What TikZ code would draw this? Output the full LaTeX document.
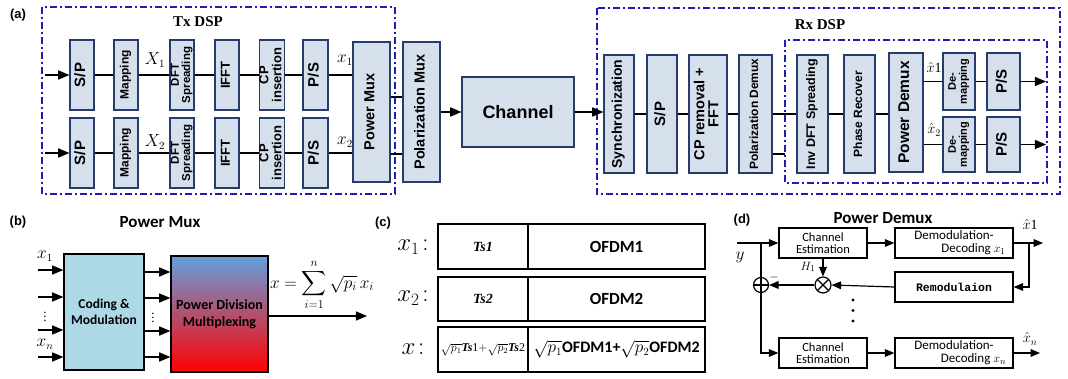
\documentclass[tikz,border=0pt]{standalone}
\usepackage{fontspec}
\setmainfont{Liberation Serif}
\setsansfont{Liberation Sans}
\setmonofont{Liberation Mono}
\newfontfamily\carlito{Carlito}
\usepackage{amsmath}
\usepackage{tikz}
\usetikzlibrary{arrows}
\definecolor{boxfill}{RGB}{214,223,236}
\definecolor{boxline}{RGB}{38,60,108}
\definecolor{dspblue}{RGB}{30,30,180}
\definecolor{codefill}{RGB}{173,216,230}
\definecolor{pdmtop}{RGB}{100,160,222}
\tikzstyle{blk} = [draw=boxline, fill=boxfill, line width=1.3pt, inner sep=0pt, font=\sffamily\bfseries\fontsize{13}{11.5}\selectfont]
\tikzstyle{wire} = [line width=1.3pt]
\tikzstyle{arr} = [-triangle 45, line width=1.6pt]
\tikzstyle{thinarr} = [-triangle 45, line width=1.2pt]
\tikzstyle{dsp} = [draw=dspblue, line width=1.4pt, dash pattern=on 7pt off 3pt on 2pt off 3pt]
\tikzstyle{pbox} = [draw, line width=1.4pt, inner sep=0pt, align=center, font=\carlito\fontsize{12.5}{12}\selectfont]
\tikzstyle{cell} = [draw, line width=1.4pt, inner sep=0pt]
\tikzstyle{sumnode} = [circle, draw, line width=1.2pt, minimum size=15pt, inner sep=0pt, path picture={\draw[line width=1.2pt] (path picture bounding box.north) -- (path picture bounding box.south) (path picture bounding box.west) -- (path picture bounding box.east);}]
\tikzstyle{multnode} = [circle, draw, line width=1.2pt, minimum size=16pt, inner sep=0pt, path picture={\draw[line width=1.2pt] (path picture bounding box.north west) -- (path picture bounding box.south east) (path picture bounding box.south west) -- (path picture bounding box.north east);}]
\newcommand{\vlab}[1]{\rotatebox{90}{\begin{tabular}{@{}c@{}}#1\end{tabular}}}

\begin{document}
\begin{tikzpicture}[yscale=-1]
			\useasboundingbox (0pt,0pt) rectangle (1068pt,379pt);
			\draw[dsp] (42pt,7pt) rectangle (395pt,194pt);
			\draw[dsp] (597pt,8pt) rectangle (1060pt,194pt);
			\draw[dsp] (785pt,40pt) rectangle (1047pt,183pt);
			\node[font=\sffamily\bfseries\fontsize{13}{13}\selectfont] (taga) at (18pt,15pt) {(a)};
			\node[font=\bfseries\fontsize{15}{15}\selectfont] (txlbl) at (198pt,22pt) {Tx DSP};
			\node[font=\bfseries\fontsize{15}{15}\selectfont] (rxlbl) at (820pt,25pt) {Rx DSP};
			\node[blk, minimum width=24pt, minimum height=70pt, font=\sffamily\bfseries\fontsize{15}{15}\selectfont] (sp1) at (82pt,75pt) {\vlab{S/P}};
			\node[blk, minimum width=24pt, minimum height=70pt, font=\sffamily\bfseries\fontsize{12}{11}\selectfont] (map1) at (126pt,75pt) {\vlab{Mapping}};
			\node[blk, minimum width=24pt, minimum height=70pt, font=\sffamily\bfseries\fontsize{11.5}{10}\selectfont] (dft1) at (182pt,75pt) {\vlab{DFT\\Spreading}};
			\node[blk, minimum width=24pt, minimum height=70pt] (ifft1) at (227pt,75pt) {\vlab{IFFT}};
			\node[blk, minimum width=24pt, minimum height=70pt] (cp1) at (272pt,75pt) {\vlab{CP\\insertion}};
			\node[blk, minimum width=25pt, minimum height=70pt, font=\sffamily\bfseries\fontsize{15}{15}\selectfont] (ps1) at (315.5pt,75pt) {\vlab{P/S}};
			\node[blk, minimum width=24pt, minimum height=70pt, font=\sffamily\bfseries\fontsize{15}{15}\selectfont] (sp2) at (82pt,153pt) {\vlab{S/P}};
			\node[blk, minimum width=24pt, minimum height=70pt, font=\sffamily\bfseries\fontsize{12}{11}\selectfont] (map2) at (126pt,153pt) {\vlab{Mapping}};
			\node[blk, minimum width=24pt, minimum height=70pt, font=\sffamily\bfseries\fontsize{11.5}{10}\selectfont] (dft2) at (182pt,153pt) {\vlab{DFT\\Spreading}};
			\node[blk, minimum width=24pt, minimum height=70pt] (ifft2) at (227pt,153pt) {\vlab{IFFT}};
			\node[blk, minimum width=24pt, minimum height=70pt] (cp2) at (272pt,153pt) {\vlab{CP\\insertion}};
			\node[blk, minimum width=25pt, minimum height=70pt, font=\sffamily\bfseries\fontsize{15}{15}\selectfont] (ps2) at (315.5pt,153pt) {\vlab{P/S}};
			\node[blk, minimum width=37pt, minimum height=140pt, font=\sffamily\bfseries\fontsize{14.5}{14}\selectfont] (pmux) at (371.5pt,112pt) {\vlab{Power Mux}};
			\node[blk, minimum width=37pt, minimum height=140pt, font=\sffamily\bfseries\fontsize{14.5}{14}\selectfont] (polmux) at (421.5pt,112pt) {\vlab{Polarization Mux}};
			\node[blk, minimum width=112pt, minimum height=70pt, font=\sffamily\bfseries\fontsize{18}{18}\selectfont] (chan) at (518pt,112pt) {Channel};
			\node[blk, minimum width=30pt, minimum height=118pt, font=\sffamily\bfseries\fontsize{14}{14}\selectfont] (sync) at (619pt,114pt) {\vlab{Synchronization}};
			\node[blk, minimum width=30pt, minimum height=118pt, font=\sffamily\bfseries\fontsize{15}{15}\selectfont] (spr) at (662pt,114pt) {\vlab{S/P}};
			\node[blk, minimum width=38pt, minimum height=118pt, font=\sffamily\bfseries\fontsize{14.5}{13}\selectfont] (cprm) at (708pt,114pt) {\vlab{CP removal +\\FFT}};
			\node[blk, minimum width=33pt, minimum height=118pt, font=\sffamily\bfseries\fontsize{12}{11}\selectfont] (poldemux) at (755.5pt,114pt) {\vlab{Polarization Demux}};
			\node[blk, minimum width=31pt, minimum height=118pt, font=\sffamily\bfseries\fontsize{12.5}{12}\selectfont] (invdft) at (812.5pt,114pt) {\vlab{Inv DFT Spreading}};
			\node[blk, minimum width=31pt, minimum height=118pt, font=\sffamily\bfseries\fontsize{12}{11}\selectfont] (phase) at (859.5pt,114pt) {\vlab{Phase Recover}};
			\node[blk, minimum width=34pt, minimum height=119pt, font=\sffamily\bfseries\fontsize{15.5}{15}\selectfont] (pdemux) at (906pt,112.5pt) {\vlab{Power Demux}};
			\node[blk, minimum width=32pt, minimum height=57pt, font=\sffamily\bfseries\fontsize{11}{10}\selectfont] (demap1) at (959pt,81.5pt) {\vlab{De-\\mapping}};
			\node[blk, minimum width=32pt, minimum height=55pt, font=\sffamily\bfseries\fontsize{11}{10}\selectfont] (demap2) at (959pt,144.5pt) {\vlab{De-\\mapping}};
			\node[blk, minimum width=33pt, minimum height=57pt, font=\sffamily\bfseries\fontsize{15}{15}\selectfont] (psr1) at (1003.5pt,81.5pt) {\vlab{P/S}};
			\node[blk, minimum width=33pt, minimum height=55pt, font=\sffamily\bfseries\fontsize{15}{15}\selectfont] (psr2) at (1003.5pt,144.5pt) {\vlab{P/S}};
			\coordinate (in1) at (45pt,75pt);
			\coordinate (in2) at (45pt,153pt);
			\draw[arr] (in1) -- (sp1.west);
			\draw[arr] (in2) -- (sp2.west);
			\draw[wire] (sp1) -- (map1) (map1) -- (dft1) (dft1) -- (ifft1) (ifft1) -- (cp1) (cp1) -- (ps1);
			\draw[wire] (sp2) -- (map2) (map2) -- (dft2) (dft2) -- (ifft2) (ifft2) -- (cp2) (cp2) -- (ps2);
			\draw[wire] (ps1.east) -- (ps1.east -| pmux.west);
			\draw[wire] (ps2.east) -- (ps2.east -| pmux.west);
			\node[font=\fontsize{16}{16}\selectfont] (lX1) at (155pt,60pt) {$X_1$};
			\node[font=\fontsize{16}{16}\selectfont] (lX2) at (155pt,142pt) {$X_2$};
			\node[font=\fontsize{16}{16}\selectfont] (lx1) at (345pt,60pt) {$x_1$};
			\node[font=\fontsize{16}{16}\selectfont] (lx2) at (345pt,142pt) {$x_2$};
			\coordinate (pm1) at (397pt,97pt);
			\coordinate (pm2) at (397pt,154pt);
			\draw[wire] (pmux.east |- pm1) -- (polmux.west |- pm1);
			\draw[wire] (pmux.east |- pm2) -- (polmux.west |- pm2);
			\draw[arr] (polmux.east |- chan.west) -- (chan.west);
			\draw[arr] (chan.east) -- (chan.east -| sync.west);
			\draw[wire] (sync) -- (spr) (spr) -- (cprm) (cprm) -- (poldemux) (poldemux) -- (invdft) (invdft) -- (phase);
			\draw[wire] (phase.east) -- (phase.east -| pdemux.west);
			\coordinate (innerL) at (785pt,154pt);
			\draw[wire] (poldemux.east |- innerL) -- (innerL);
			\draw[wire] (pdemux.east |- demap1.west) -- (demap1.west);
			\draw[wire] (pdemux.east |- demap2.west) -- (demap2.west);
			\draw[wire] (demap1) -- (psr1) (demap2) -- (psr2);
			\coordinate (out1) at (1046pt,81.5pt);
			\coordinate (out2) at (1046pt,144.5pt);
			\draw[arr] (psr1.east) -- (out1);
			\draw[arr] (psr2.east) -- (out2);
			\node[font=\fontsize{14}{14}\selectfont, inner sep=1pt] (lxh1) at (934pt,68pt) {$\hat{x}\mathrm{1}$};
			\node[font=\fontsize{14}{14}\selectfont, inner sep=1pt] (lxh2) at (934pt,130pt) {$\hat{x}_2$};
			\node[font=\sffamily\bfseries\fontsize{13}{13}\selectfont] (tagb) at (18pt,222pt) {(b)};
			\node[font=\carlito\bfseries\fontsize{17}{17}\selectfont] (bhead) at (160pt,222pt) {Power Mux};
			\node[draw, line width=1.4pt, fill=codefill, minimum width=80pt, minimum height=116pt, align=center, font=\carlito\bfseries\fontsize{13.5}{16}\selectfont] (coding) at (104pt,312pt) {Coding \&\\Modulation};
			\node[draw, line width=1.4pt, top color=pdmtop, bottom color=red, minimum width=97pt, minimum height=116pt, align=center, font=\carlito\bfseries\fontsize{14}{17}\selectfont] (pdm) at (219.5pt,314pt) {Power Division\\Multiplexing};
			\coordinate (bi1) at (38pt,270pt);
			\coordinate (bi2) at (38pt,297pt);
			\coordinate (bi3) at (38pt,330pt);
			\coordinate (bi4) at (38pt,357pt);
			\draw[arr] (bi1) -- (bi1 -| coding.west);
			\draw[arr] (bi2) -- (bi2 -| coding.west);
			\draw[arr] (bi3) -- (bi3 -| coding.west);
			\draw[arr] (bi4) -- (bi4 -| coding.west);
			\coordinate (bm1) at (150pt,272pt);
			\coordinate (bm2) at (150pt,298pt);
			\coordinate (bm3) at (150pt,331pt);
			\coordinate (bm4) at (150pt,357pt);
			\draw[arr] (coding.east |- bm1) -- (pdm.west |- bm1);
			\draw[arr] (coding.east |- bm2) -- (pdm.west |- bm2);
			\draw[arr] (coding.east |- bm3) -- (pdm.west |- bm3);
			\draw[arr] (coding.east |- bm4) -- (pdm.west |- bm4);
			\coordinate (bout) at (367pt,316pt);
			\draw[arr] (pdm.east |- bout) -- (bout);
			\node[font=\fontsize{16}{16}\selectfont] (bx1) at (45pt,256pt) {$x_1$};
			\node[font=\fontsize{16}{16}\selectfont] (bxn) at (45pt,344pt) {$x_n$};
			\node[font=\fontsize{13}{13}\selectfont] (bdots1) at (45pt,314pt) {$\vdots$};
			\node[font=\fontsize{13}{13}\selectfont] (bdots2) at (153pt,315pt) {$\vdots$};
			\node[font=\fontsize{17}{17}\selectfont, inner sep=0pt] (formula) at (322pt,285pt) {$x=\displaystyle\sum_{i=1}^{n}\sqrt{p_i}\,x_i$};
			\node[font=\sffamily\bfseries\fontsize{13}{13}\selectfont] (tagc) at (383pt,223pt) {(c)};
			\node[cell, minimum width=90pt, minimum height=45pt, font=\bfseries\itshape\fontsize{14}{14}\selectfont] (ts1) at (483pt,246.5pt) {Ts1};
			\node[cell, minimum width=177pt, minimum height=45pt, font=\carlito\bfseries\fontsize{17}{17}\selectfont] (of1) at (616.5pt,246.5pt) {OFDM1};
			\node[cell, minimum width=90pt, minimum height=44pt, font=\bfseries\itshape\fontsize{14}{14}\selectfont] (ts2) at (483pt,299pt) {Ts2};
			\node[cell, minimum width=177pt, minimum height=44pt, font=\carlito\bfseries\fontsize{17}{17}\selectfont] (of2) at (616.5pt,299pt) {OFDM2};
			\node[cell, minimum width=90pt, minimum height=45pt, font=\fontsize{12}{12}\selectfont] (ts3) at (483pt,349.5pt) {$\sqrt{p_1}$\textbf{\textit{Ts}}1$+\sqrt{p_2}$\textbf{\textit{Ts}}2};
			\node[cell, minimum width=177pt, minimum height=45pt, font=\carlito\bfseries\fontsize{16}{16}\selectfont] (of3) at (616.5pt,349.5pt) {$\sqrt{p_1}$OFDM1+$\sqrt{p_2}$OFDM2};
			\node[font=\fontsize{26}{26}\selectfont] (cx1) at (413pt,247pt) {$x_1\!:$};
			\node[font=\fontsize{26}{26}\selectfont] (cx2) at (413pt,298pt) {$x_2\!:$};
			\node[font=\fontsize{26}{26}\selectfont] (cx) at (413pt,349pt) {$x\!:$};
			\node[font=\sffamily\bfseries\fontsize{13}{13}\selectfont] (tagd) at (742pt,220pt) {(d)};
			\node[font=\carlito\bfseries\fontsize{17}{17}\selectfont] (dhead) at (883pt,218pt) {Power Demux};
			\node[pbox, minimum width=88pt, minimum height=30pt] (ce1) at (823pt,243pt) {Channel\\Estimation};
			\node[pbox, minimum width=118pt, minimum height=30pt, font=\carlito\fontsize{13}{13}\selectfont] (dd1) at (954pt,243pt) {Demodulation-\\\hspace*{3em}Decoding $x_1$};
			\node[pbox, minimum width=118pt, minimum height=30pt, font=\ttfamily\bfseries\fontsize{11.5}{11.5}\selectfont] (remod) at (954pt,287pt) {Remodulaion};
			\node[pbox, minimum width=88pt, minimum height=30pt] (ce2) at (823pt,353pt) {Channel\\Estimation};
			\node[pbox, minimum width=118pt, minimum height=30pt, font=\carlito\fontsize{13}{13}\selectfont] (dd2) at (954pt,353pt) {Demodulation-\\\hspace*{3em}Decoding $x_n$};
			\node[sumnode] (oplus) at (761pt,285pt) {};
			\node[multnode] (mult) at (823pt,285pt) {};
			\coordinate (yin) at (737pt,243pt);
			\coordinate (ybr) at (761pt,243pt);
			\draw[thinarr] (yin) -- (ce1.west);
			\draw[wire, line width=1.2pt] (ybr) -- (oplus.north);
			\draw[thinarr] (oplus.south) |- (ce2.west);
			\draw[thinarr] (ce1.south) -- (mult.north);
			\draw[thinarr] (remod.west) -- (mult.east);
			\draw[thinarr] (mult.west) -- (oplus.east);
			\draw[thinarr] (ce1.east) -- (dd1.west);
			\draw[thinarr] (ce2.east) -- (dd2.west);
			\coordinate (x1out) at (1043pt,243pt);
			\coordinate (fb) at (1029pt,243pt);
			\coordinate (xnout) at (1040pt,353pt);
			\draw[thinarr] (dd1.east) -- (x1out);
			\draw[thinarr] (fb) |- (remod.east);
			\draw[thinarr] (dd2.east) -- (xnout);
			\node[font=\fontsize{16}{16}\selectfont] (ly) at (740pt,257pt) {$y$};
			\node[font=\fontsize{13}{13}\selectfont, inner sep=1pt] (lH1) at (808pt,267pt) {$H_1$};
			\node[font=\fontsize{13}{13}\selectfont, inner sep=1pt] (lminus) at (774pt,278pt) {$-$};
			\node[font=\fontsize{14}{14}\selectfont, inner sep=1pt] (lxd1) at (1030pt,225pt) {$\hat{x}\mathrm{1}$};
			\node[font=\fontsize{14}{14}\selectfont, inner sep=1pt] (lxdn) at (1030pt,339pt) {$\hat{x}_n$};
			\fill (853pt,300pt) circle (1.6pt) (853pt,310.5pt) circle (1.6pt) (853pt,321pt) circle (1.6pt);
		\end{tikzpicture}
\end{document}
